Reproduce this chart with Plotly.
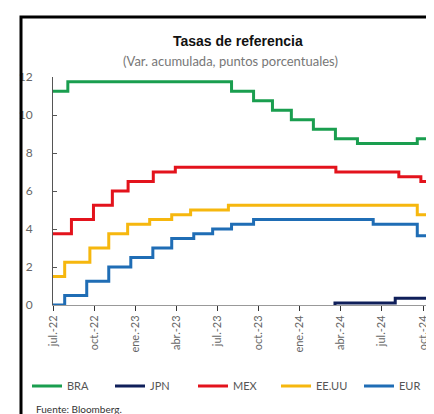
import plotly.graph_objects as go

# --- data (cumulative change, percentage points; step changes) ---
end_date = "2024-11-12"

bra_dates = ["2022-07-01", "2022-08-03", "2023-08-02", "2023-09-20", "2023-11-01",
             "2023-12-13", "2024-01-31", "2024-03-20", "2024-05-08", "2024-09-18", "2024-11-06"]
bra_vals = [11.25, 11.75, 11.25, 10.75, 10.25, 9.75, 9.25, 8.75, 8.5, 8.75, 9.25]

jpn_dates = ["2024-03-18", "2024-03-19", "2024-07-31"]
jpn_vals = [0.0, 0.1, 0.35]

mex_dates = ["2022-07-01", "2022-08-11", "2022-09-29", "2022-11-10", "2022-12-15",
             "2023-02-09", "2023-03-30", "2024-03-21", "2024-08-08", "2024-09-26"]
mex_vals = [3.75, 4.5, 5.25, 6.0, 6.5, 7.0, 7.25, 7.0, 6.75, 6.5]

us_dates = ["2022-07-01", "2022-07-27", "2022-09-21", "2022-11-02", "2022-12-14",
            "2023-02-01", "2023-03-22", "2023-05-03", "2023-07-26", "2024-09-18"]
us_vals = [1.5, 2.25, 3.0, 3.75, 4.25, 4.5, 4.75, 5.0, 5.25, 4.75]

eur_dates = ["2022-07-01", "2022-07-27", "2022-09-14", "2022-11-02", "2022-12-21",
             "2023-02-08", "2023-03-22", "2023-05-10", "2023-06-21", "2023-08-02",
             "2023-09-20", "2024-06-12", "2024-09-18", "2024-10-23"]
eur_vals = [0.0, 0.5, 1.25, 2.0, 2.5, 3.0, 3.5, 3.75, 4.0, 4.25, 4.5, 4.25, 3.65, 3.4]

tick_vals = ["2022-07-01", "2022-10-01", "2023-01-01", "2023-04-01", "2023-07-01",
             "2023-10-01", "2024-01-01", "2024-04-01", "2024-07-01", "2024-10-01"]
tick_text = ["jul.-22", "oct.-22", "ene.-23", "abr.-23", "jul.-23",
             "oct.-23", "ene.-24", "abr.-24", "jul.-24", "oct.-24"]

series = [
    ("BRA", bra_dates, bra_vals, "#1a9e4f"),
    ("JPN", jpn_dates, jpn_vals, "#0f1f5a"),
    ("MEX", mex_dates, mex_vals, "#e3131c"),
    ("EE.UU", us_dates, us_vals, "#f6b70e"),
    ("EUR", eur_dates, eur_vals, "#1f6db5"),
]

fig = go.Figure()
for name, d, v, c in series:
    fig.add_trace(go.Scatter(
        x=d + [end_date], y=v + [v[-1]], name=name, mode="lines",
        line=dict(color=c, width=3, shape="hv"),
    ))

W, H = 434, 414
ml, mr, mt, mb = 45, 0, 69, 117
pw, ph = W - ml - mr, H - mt - mb

def px(x):
    return (x - ml) / pw

def py(y):
    return (H - mb - y) / ph

font_fam = "Lato, Open Sans, sans-serif"

fig.update_layout(
    width=W, height=H,
    margin=dict(l=ml, r=mr, t=mt, b=mb),
    paper_bgcolor="white", plot_bgcolor="white",
    showlegend=True,
    legend=dict(orientation="h", x=px(20), y=py(378), yanchor="middle", xanchor="left",
                font=dict(family=font_fam, size=11, color="#555"),
                entrywidth=38, entrywidthmode="pixels", itemwidth=30,
                bgcolor="rgba(0,0,0,0)", tracegroupgap=0),
    xaxis=dict(
        type="date", range=["2022-07-01", end_date],
        tickmode="array", tickvals=tick_vals, ticktext=tick_text,
        tickangle=-90, ticks="outside", ticklen=5, tickcolor="#333", tickwidth=1,
        showline=True, linecolor="#999", linewidth=1,
        showgrid=False, zeroline=False,
        tickfont=dict(family=font_fam, size=11, color="#666"),
    ),
    yaxis=dict(
        range=[0, 12], tickvals=[0, 2, 4, 6, 8, 10, 12],
        ticks="inside", ticklen=4, tickcolor="#555",
        showline=True, linecolor="#555", linewidth=1,
        showgrid=False, zeroline=False,
        ticklabelstandoff=17,
        tickfont=dict(family=font_fam, size=12, color="#666"),
    ),
    annotations=[
        dict(text="<b>Tasas de referencia</b>", xref="paper", yref="paper",
             x=px(230), y=py(33), xanchor="center", yanchor="middle", showarrow=False,
             font=dict(family="Liberation Sans, Arial, sans-serif", size=14, color="#111")),
        dict(text="(Var. acumulada, puntos porcentuales)", xref="paper", yref="paper",
             x=px(222), y=py(53), xanchor="center", yanchor="middle", showarrow=False,
             font=dict(family=font_fam, size=13, color="#777")),
        dict(text="Fuente: Bloomberg.", xref="paper", yref="paper",
             x=px(26), y=py(401), xanchor="left", yanchor="middle", showarrow=False,
             font=dict(family=font_fam, size=10, color="#333")),
    ],
    shapes=[
        dict(type="path", xref="paper", yref="paper",
             path=f"M {px(13)},{py(420)} L {px(13)},{py(9)} L {px(440)},{py(9)}",
             line=dict(color="black", width=3)),
    ],
)

fig.write_html("out.html")
